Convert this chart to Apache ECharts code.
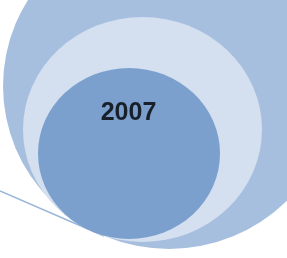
<!DOCTYPE html>
<html>
<head>
<meta charset="utf-8">
<script src="https://cdn.jsdelivr.net/npm/echarts@6/dist/echarts.min.js"></script>
<style>html,body{margin:0;padding:0;background:#fff}#c{width:287px;height:258px}</style>
</head>
<body>
<div id="c"></div>
<script>
// Nested circles: [centerX, centerY, radiusX, radiusY] in picture units (outer -> inner)
const circleNames = ['outer', 'middle', 'inner'];
const circleGeom = [[169, 86, 166, 163], [142.5, 129.5, 119.5, 112.5], [129, 153.5, 91, 85.5]];
const circleColors = ['#a7bfdf', '#d4dfef', '#7ba0ce'];
const labelText = ['2007'];
const labelPos = [[128.5, 113]];
const connectorLine = [[0, 191], [104, 236]];

const chart = echarts.init(document.getElementById('c'), null, {renderer: 'canvas'});
chart.setOption({
  backgroundColor: '#ffffff',
  animation: false,
  grid: {left: 0, right: 0, top: 0, bottom: 0},
  xAxis: {type: 'value', min: 0, max: 287, show: false},
  yAxis: {type: 'value', min: 0, max: 258, inverse: true, show: false},
  series: [
    {
      type: 'line', z: 1, symbol: 'none', silent: true,
      data: connectorLine,
      lineStyle: {color: '#9ab5da', width: 1.5}
    },
    {
      type: 'custom', z: 2, silent: true,
      data: circleGeom.map((g, i) => ({name: circleNames[i], value: g})),
      renderItem: function (params, api) {
        const c = api.coord([api.value(0), api.value(1)]);
        const s = api.size([api.value(2), api.value(3)]);
        const rx = s[0], ry = s[1];
        return {
          type: 'circle',
          x: c[0], y: c[1],
          scaleX: rx / ry, scaleY: 1,
          shape: {cx: 0, cy: 0, r: ry},
          style: {fill: circleColors[params.dataIndex], stroke: null}
        };
      }
    },
    {
      type: 'scatter', z: 3, silent: true, symbolSize: 0,
      data: labelPos.map((p, i) => ({name: labelText[i], value: p})),
      label: {
        show: true, position: 'inside', formatter: '{b}',
        color: '#000000', fontFamily: 'Liberation Sans', fontWeight: 'bold', fontSize: 25
      }
    }
  ]
});
</script>
</body>
</html>
